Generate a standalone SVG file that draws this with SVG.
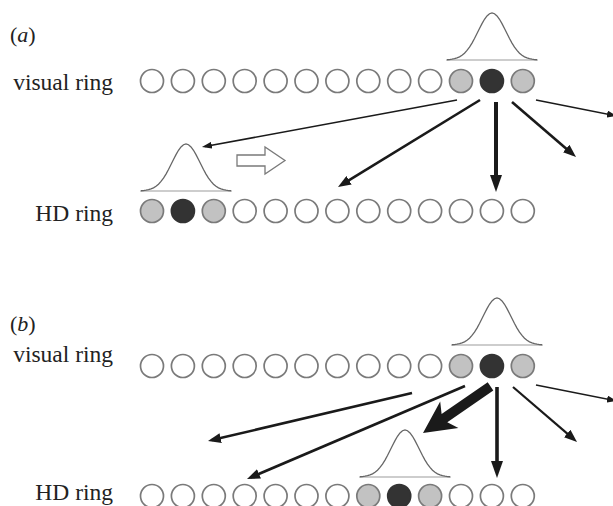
<svg xmlns="http://www.w3.org/2000/svg" xmlns:xlink="http://www.w3.org/1999/xlink" width="613" height="506" viewBox="0 0 613 506">
<style>
.lbl{font-family:"Liberation Serif","Times New Roman",serif;font-size:23.5px;fill:#222;text-anchor:end}
.tag{font-family:"Liberation Serif","Times New Roman",serif;font-size:22px;fill:#222}
.w{fill:#fff;stroke:#7a7a7a;stroke-width:1.7}
.g{fill:#c2c2c2;stroke:#7a7a7a;stroke-width:1.7}
.d{fill:#333;stroke:#333;stroke-width:1.7}
.gauss{fill:none;stroke:#666;stroke-width:1.3}
.base{stroke:#bdbdbd;stroke-width:1.3}
.c{stroke:#1a1a1a;fill:none}
</style>
<defs>
<path id="gs" d="M-45,-0.27 L-42.5,-0.47 L-40,-0.79 L-37.5,-1.30 L-35,-2.06 L-32.5,-3.18 L-30,-4.73 L-27.5,-6.83 L-25,-9.54 L-22.5,-12.92 L-20,-16.94 L-17.5,-21.52 L-15,-26.47 L-12.5,-31.55 L-10,-36.42 L-7.5,-40.72 L-5,-44.10 L-2.5,-46.26 L0,-47 L2.5,-46.26 L5,-44.10 L7.5,-40.72 L10,-36.42 L12.5,-31.55 L15,-26.47 L17.5,-21.52 L20,-16.94 L22.5,-12.92 L25,-9.54 L27.5,-6.83 L30,-4.73 L32.5,-3.18 L35,-2.06 L37.5,-1.30 L40,-0.79 L42.5,-0.47 L45,-0.27"/>
<marker id="hs" markerUnits="userSpaceOnUse" viewBox="0 0 10 7" refX="7" refY="3.5" markerWidth="10" markerHeight="7" orient="auto"><path d="M0,0 L10,3.5 L0,7 z" fill="#1a1a1a"/></marker>
<marker id="hm" markerUnits="userSpaceOnUse" viewBox="0 0 13 10" refX="9" refY="5" markerWidth="13" markerHeight="10" orient="auto"><path d="M0,0 L13,5 L0,10 z" fill="#1a1a1a"/></marker>
<marker id="hl" markerUnits="userSpaceOnUse" viewBox="0 0 17 12" refX="10" refY="6" markerWidth="17" markerHeight="12" orient="auto"><path d="M0,0 L17,6 L0,12 z" fill="#1a1a1a"/></marker>
</defs>

<g id="labels">
<text class="tag" x="10" y="42">(<tspan font-style="italic">a</tspan>)</text>
<text class="lbl" x="113" y="90">visual ring</text>
<text class="lbl" x="113" y="221">HD ring</text>
<text class="tag" x="10" y="331">(<tspan font-style="italic">b</tspan>)</text>
<text class="lbl" x="113" y="362">visual ring</text>
<text class="lbl" x="113" y="500">HD ring</text>
</g>

<g id="a-visual-ring">
<circle class="w" cx="152" cy="81" r="11.5"/>
<circle class="w" cx="182.9" cy="81" r="11.5"/>
<circle class="w" cx="213.8" cy="81" r="11.5"/>
<circle class="w" cx="244.7" cy="81" r="11.5"/>
<circle class="w" cx="275.6" cy="81" r="11.5"/>
<circle class="w" cx="306.5" cy="81" r="11.5"/>
<circle class="w" cx="337.4" cy="81" r="11.5"/>
<circle class="w" cx="368.3" cy="81" r="11.5"/>
<circle class="w" cx="399.2" cy="81" r="11.5"/>
<circle class="w" cx="430.1" cy="81" r="11.5"/>
<circle class="g" cx="461" cy="81" r="11.5"/>
<circle class="d" cx="491.9" cy="81" r="11.5"/>
<circle class="g" cx="522.8" cy="81" r="11.5"/>
<line class="base" x1="446" y1="60" x2="538" y2="60"/>
<use xlink:href="#gs" class="gauss" transform="translate(492,60)"/>
</g>

<g id="a-hd-ring">
<circle class="g" cx="152" cy="211" r="11.5"/>
<circle class="d" cx="182.9" cy="211" r="11.5"/>
<circle class="g" cx="213.8" cy="211" r="11.5"/>
<circle class="w" cx="244.7" cy="211" r="11.5"/>
<circle class="w" cx="275.6" cy="211" r="11.5"/>
<circle class="w" cx="306.5" cy="211" r="11.5"/>
<circle class="w" cx="337.4" cy="211" r="11.5"/>
<circle class="w" cx="368.3" cy="211" r="11.5"/>
<circle class="w" cx="399.2" cy="211" r="11.5"/>
<circle class="w" cx="430.1" cy="211" r="11.5"/>
<circle class="w" cx="461" cy="211" r="11.5"/>
<circle class="w" cx="491.9" cy="211" r="11.5"/>
<circle class="w" cx="522.8" cy="211" r="11.5"/>
<line class="base" x1="140" y1="191" x2="232" y2="191"/>
<use xlink:href="#gs" class="gauss" transform="translate(186,191)"/>
<polygon id="shift-arrow" points="237,155 265,155 265,147 285,160.5 265,174 265,166 237,166" fill="#fff" stroke="#7a7a7a" stroke-width="1.3"/>
</g>

<g id="b-visual-ring">
<circle class="w" cx="152" cy="366" r="11.5"/>
<circle class="w" cx="182.9" cy="366" r="11.5"/>
<circle class="w" cx="213.8" cy="366" r="11.5"/>
<circle class="w" cx="244.7" cy="366" r="11.5"/>
<circle class="w" cx="275.6" cy="366" r="11.5"/>
<circle class="w" cx="306.5" cy="366" r="11.5"/>
<circle class="w" cx="337.4" cy="366" r="11.5"/>
<circle class="w" cx="368.3" cy="366" r="11.5"/>
<circle class="w" cx="399.2" cy="366" r="11.5"/>
<circle class="w" cx="430.1" cy="366" r="11.5"/>
<circle class="g" cx="461" cy="366" r="11.5"/>
<circle class="d" cx="491.9" cy="366" r="11.5"/>
<circle class="g" cx="522.8" cy="366" r="11.5"/>
<line class="base" x1="451" y1="345" x2="543" y2="345"/>
<use xlink:href="#gs" class="gauss" transform="translate(497,345)"/>
</g>

<g id="b-hd-ring">
<circle class="w" cx="152" cy="496" r="11.5"/>
<circle class="w" cx="182.9" cy="496" r="11.5"/>
<circle class="w" cx="213.8" cy="496" r="11.5"/>
<circle class="w" cx="244.7" cy="496" r="11.5"/>
<circle class="w" cx="275.6" cy="496" r="11.5"/>
<circle class="w" cx="306.5" cy="496" r="11.5"/>
<circle class="w" cx="337.4" cy="496" r="11.5"/>
<circle class="g" cx="368.3" cy="496" r="11.5"/>
<circle class="d" cx="399.2" cy="496" r="11.5"/>
<circle class="g" cx="430.1" cy="496" r="11.5"/>
<circle class="w" cx="461" cy="496" r="11.5"/>
<circle class="w" cx="491.9" cy="496" r="11.5"/>
<circle class="w" cx="522.8" cy="496" r="11.5"/>
<line class="base" x1="359" y1="477" x2="451" y2="477"/>
<use xlink:href="#gs" class="gauss" transform="translate(405,477)"/>
</g>

<g id="connectors">
<line class="c" x1="457" y1="100" x2="204.9" y2="146.5" stroke-width="1.6" marker-end="url(#hs)"/>
<line class="c" x1="480" y1="100" x2="341.4" y2="184.9" stroke-width="2.6" marker-end="url(#hm)"/>
<line class="c" x1="496" y1="102" x2="496" y2="185" stroke-width="4" marker-end="url(#hl)"/>
<line class="c" x1="512" y1="102" x2="573" y2="154.4" stroke-width="2.6" marker-end="url(#hm)"/>
<line class="c" x1="536" y1="100" x2="614" y2="115.4" stroke-width="1.6" marker-end="url(#hs)"/>

<line class="c" x1="412" y1="393" x2="211.9" y2="440.1" stroke-width="2.6" marker-end="url(#hm)"/>
<line class="c" x1="465" y1="386" x2="250.7" y2="477.4" stroke-width="2.6" marker-end="url(#hm)"/>
<polygon points="423,433 458.4,428 447.3,422.3 493.3,390.5 487.7,382.2 441.6,414.1 440.2,401.6" fill="#1a1a1a"/>
<line class="c" x1="497" y1="387" x2="497" y2="471" stroke-width="3.6" marker-end="url(#hl)"/>
<line class="c" x1="513" y1="387" x2="574" y2="439.4" stroke-width="2.2" marker-end="url(#hm)"/>
<line class="c" x1="536" y1="385" x2="614" y2="400.4" stroke-width="1.6" marker-end="url(#hs)"/>
</g>
</svg>
